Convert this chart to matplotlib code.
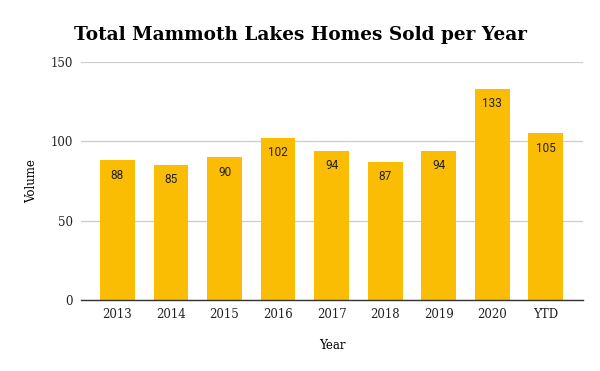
import numpy as np
import matplotlib
matplotlib.use("Agg")
import matplotlib.pyplot as plt

# data
years = ["2013", "2014", "2015", "2016", "2017", "2018", "2019", "2020", "YTD"]
homes_sold = [88, 85, 90, 102, 94, 87, 94, 133, 105]

bar_color = "#FABD03"

fig = plt.figure(figsize=(6, 3.71), dpi=100)
ax = fig.add_axes([0.135, 0.1914, 0.837, 0.6416])

x = np.arange(len(years))
bars = ax.bar(x, homes_sold, width=0.65, color=bar_color, zorder=2)

# value labels just inside the top of each bar
for xi, v in zip(x, homes_sold):
    ax.annotate(str(v), (xi, v), xytext=(0, -6), textcoords="offset points",
                ha="center", va="top", fontsize=8.5, color="#222222",
                family="Roboto")

ax.set_xlim(-0.68, 8.7)
ax.set_ylim(0, 150)
ax.set_yticks([0, 50, 100, 150])
ax.set_xticks(x)
ax.set_xticklabels(years)

ax.grid(axis="y", color="#cccccc", linewidth=0.9, zorder=0)
for s in ["top", "right", "left"]:
    ax.spines[s].set_visible(False)
ax.spines["bottom"].set_color("#333333")
ax.spines["bottom"].set_linewidth(1.0)
ax.spines["bottom"].set_zorder(3)
ax.tick_params(length=0, labelsize=8.5, colors="#222222", pad=6)
for lab in ax.get_xticklabels() + ax.get_yticklabels():
    lab.set_family("DejaVu Serif")

ax.set_xlabel("Year", family="DejaVu Serif", fontsize=8.5, labelpad=13)
ax.set_ylabel("Volume", family="DejaVu Serif", fontsize=8.5, labelpad=9)

fig.text(0.5, 0.905, "Total Mammoth Lakes Homes Sold per Year", ha="center",
         va="center", fontsize=13.3, fontweight="bold", family="DejaVu Serif")

fig.savefig("out.png", dpi=100)
